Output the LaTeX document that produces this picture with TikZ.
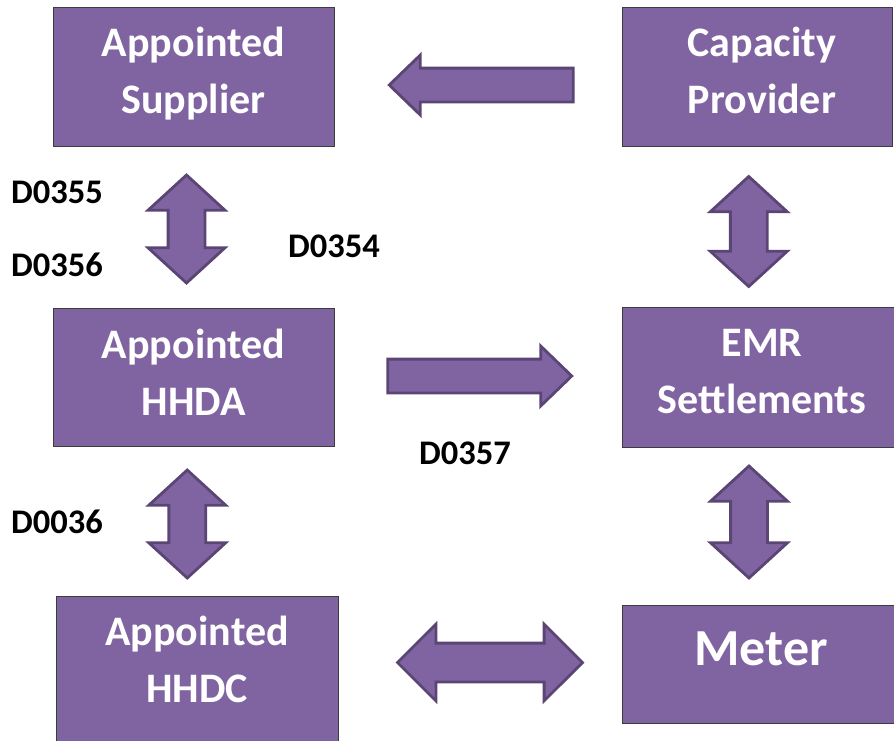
\documentclass[tikz,border=0pt]{standalone}
\usepackage{fontspec}
\setmainfont{Carlito}
\usepackage{tikz}
\usetikzlibrary{calc,shapes.arrows}
\definecolor{boxfill}{HTML}{8064A2}
\definecolor{arrowline}{HTML}{5A4574}
\definecolor{boxline}{HTML}{3C3C3C}
\tikzset{
	box/.style={draw=boxline, line width=1pt, fill=boxfill, minimum width=281pt, minimum height=139pt, inner sep=0pt},
	boxtext/.style={text=white, font=\bfseries\fontsize{42}{57}\selectfont, align=center, anchor=base, inner sep=0pt},
	code/.style={font=\bfseries\fontsize{34.5}{40}\selectfont, anchor=base west, inner sep=0pt},
	flow/.style={fill=boxfill, draw=arrowline, line width=2.8pt, inner xsep=0pt},
	onearrow/.style={flow, single arrow, single arrow head extend=13pt, single arrow tip angle=88, minimum height=184pt, inner ysep=15.5pt},
	twoarrow/.style={flow, double arrow, double arrow head extend=20pt, double arrow tip angle=95, minimum height=108pt, inner ysep=17pt}
}
\begin{document}
\begin{tikzpicture}[x=1pt,y=-1pt]
	% Рамка
	\useasboundingbox (0,0) rectangle (894,740);
	% Блоки
	\node[box] (sup) at (193.5,76.5) {};
	\node[box, minimum width=270pt] (cap) at (757,76.5) {};
	\node[box, minimum height=138pt] (hhda) at (193.5,377) {};
	\node[box, minimum height=140pt] (emr) at (762.5,377) {};
	\node[box, minimum width=282pt, minimum height=150pt] (hhdc) at (197,671) {};
	\node[box, minimum height=118pt] (meter) at (762.5,664) {};
	% Надписи в блоках
	\node[boxtext] (sup-t) at (193.5,113) {Appointed\\Supplier};
	\node[boxtext] (cap-t) at (762,113) {Capacity\\Provider};
	\node[boxtext] (hhda-t) at (193.5,415) {Appointed\\HHDA};
	\node[boxtext] (emr-t) at (762,413) {EMR\\Settlements};
	\node[boxtext] (hhdc-t) at (197,702) {Appointed\\HHDC};
	\node[boxtext, font=\bfseries\fontsize{52}{60}\selectfont] (meter-t) at (761,665) {Meter};
	% Стрелки
	\node[onearrow, rotate=180] (cap-sup) at ([xshift=12pt,yshift=-8.5pt]$(sup.east)!0.5!(cap.west)$) {};
	\node[twoarrow, rotate=90] (sup-hhda) at ([xshift=-7pt,yshift=-2pt]$(sup.south)!0.5!(hhda.north)$) {};
	\node[twoarrow, rotate=90, minimum height=110pt] (cap-emr) at ([xshift=-11pt,yshift=-5pt]$(cap.south)!0.5!(emr.north)$) {};
	\node[onearrow] (hhda-emr) at ([xshift=-7pt,yshift=1pt]$(hhda.east)!0.5!(emr.west)$) {};
	\node[twoarrow, rotate=90] (hhda-hhdc) at ([xshift=-8pt,yshift=-3pt]$(hhda.south)!0.5!(hhdc.north)$) {};
	\node[twoarrow, rotate=90, minimum height=112pt] (emr-meter) at ([xshift=-13.5pt,yshift=4pt]$(emr.south)!0.5!(meter.north)$) {};
	\node[twoarrow, minimum height=185pt, inner ysep=18pt, double arrow head extend=19pt, double arrow tip angle=90] (hhdc-meter) at ([xshift=10pt,yshift=5pt]$(hhdc.east)!0.5!(meter.west)$) {};
	% Коды потоков
	\node[code] (d0355) at (11,203) {D0355};
	\node[code] (d0356) at (11,276) {D0356};
	\node[code] (d0354) at (288,257) {D0354};
	\node[code] (d0357) at (419,464) {D0357};
	\node[code] (d0036) at (11,533) {D0036};
\end{tikzpicture}
\end{document}
